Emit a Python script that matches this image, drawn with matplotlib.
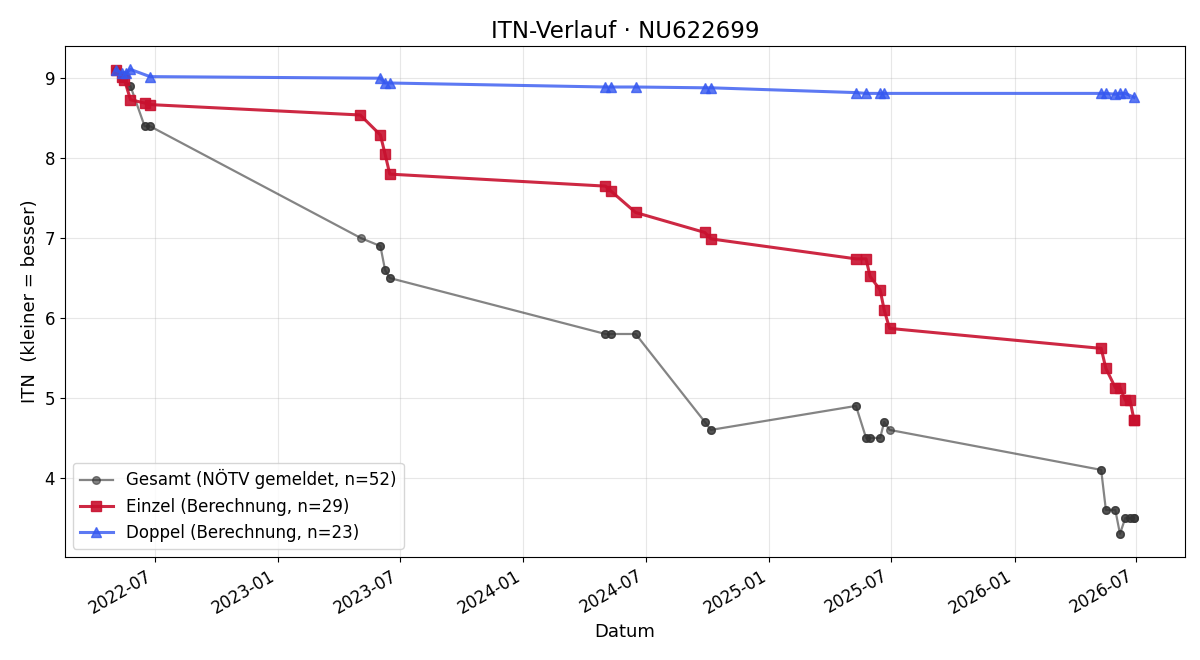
import matplotlib
matplotlib.use("Agg")
import matplotlib.pyplot as plt
import matplotlib.dates as mdates
import pandas as pd

# Gesamt (NÖTV gemeldet) - Einträge an gleichen Tagen doppelt
gesamt_dates = ["2022-05-04", "2022-05-04", "2022-05-13", "2022-05-26", "2022-05-26",
                "2022-06-16", "2022-06-16", "2022-06-24", "2022-06-24",
                "2023-05-04", "2023-06-02", "2023-06-02", "2023-06-09", "2023-06-09",
                "2023-06-16", "2023-06-16",
                "2024-05-02", "2024-05-02", "2024-05-10", "2024-05-10", "2024-06-16", "2024-06-16",
                "2024-09-27", "2024-09-27", "2024-10-06", "2024-10-06",
                "2025-05-10", "2025-05-10", "2025-05-25", "2025-05-25", "2025-05-31", "2025-05-31",
                "2025-06-15", "2025-06-15", "2025-06-21", "2025-06-21", "2025-06-29",
                "2026-05-10", "2026-05-10", "2026-05-17", "2026-05-17", "2026-05-31", "2026-05-31",
                "2026-06-07", "2026-06-07", "2026-06-15", "2026-06-15", "2026-06-22", "2026-06-22",
                "2026-06-28", "2026-06-28", "2026-06-28"]
gesamt_itn = [9.1, 9.1, 9.0, 8.9, 8.9,
              8.4, 8.4, 8.4, 8.4,
              7.0, 6.9, 6.9, 6.6, 6.6,
              6.5, 6.5,
              5.8, 5.8, 5.8, 5.8, 5.8, 5.8,
              4.7, 4.7, 4.6, 4.6,
              4.9, 4.9, 4.5, 4.5, 4.5, 4.5,
              4.5, 4.5, 4.7, 4.7, 4.6,
              4.1, 4.1, 3.6, 3.6, 3.6, 3.6,
              3.3, 3.3, 3.5, 3.5, 3.5, 3.5,
              3.5, 3.5, 3.5]

einzel_dates = ["2022-05-04", "2022-05-13", "2022-05-17", "2022-05-26", "2022-06-16", "2022-06-24",
                "2023-05-03", "2023-06-02", "2023-06-09", "2023-06-16",
                "2024-05-02", "2024-05-10", "2024-06-16", "2024-09-27", "2024-10-06",
                "2025-05-10", "2025-05-25", "2025-05-31", "2025-06-15", "2025-06-21", "2025-06-29",
                "2026-05-10", "2026-05-17", "2026-05-31", "2026-06-07", "2026-06-15", "2026-06-22",
                "2026-06-28", "2026-06-28"]
einzel_itn = [9.1, 9.02, 8.98, 8.73, 8.69, 8.67,
              8.54, 8.29, 8.05, 7.80,
              7.65, 7.59, 7.32, 7.07, 6.99,
              6.74, 6.74, 6.52, 6.35, 6.10, 5.87,
              5.62, 5.37, 5.13, 5.13, 4.97, 4.97,
              4.72, 4.72]

doppel_dates = ["2022-05-04", "2022-05-13", "2022-05-20", "2022-05-26", "2022-06-24",
                "2023-06-02", "2023-06-09", "2023-06-16",
                "2024-05-02", "2024-05-10", "2024-06-16", "2024-09-27", "2024-10-06",
                "2025-05-10", "2025-05-25", "2025-06-15", "2025-06-21",
                "2026-05-10", "2026-05-17", "2026-05-31", "2026-06-07", "2026-06-15", "2026-06-28"]
doppel_itn = [9.1, 9.07, 9.07, 9.11, 9.02,
              9.0, 8.94, 8.94,
              8.89, 8.89, 8.89, 8.88, 8.88,
              8.82, 8.81, 8.81, 8.81,
              8.81, 8.81, 8.80, 8.81, 8.81, 8.76]

gesamt_dates = pd.to_datetime(gesamt_dates)
einzel_dates = pd.to_datetime(einzel_dates)
doppel_dates = pd.to_datetime(doppel_dates)

fig, ax = plt.subplots(figsize=(12, 6.6), dpi=100)

ax.plot(gesamt_dates, gesamt_itn, marker="o", markersize=5.5, linewidth=1.6,
        color="#333333", alpha=0.6, label="Gesamt (NÖTV gemeldet, n=%d)" % len(gesamt_itn))
ax.plot(einzel_dates, einzel_itn, marker="s", markersize=7.5, linewidth=2.2,
        color="#C8102E", alpha=0.9, label="Einzel (Berechnung, n=%d)" % len(einzel_itn))
ax.plot(doppel_dates, doppel_itn, marker="^", markersize=7.5, linewidth=2.2,
        color="#3558F0", alpha=0.8, label="Doppel (Berechnung, n=%d)" % len(doppel_itn))

ax.set_title("ITN-Verlauf · NU622699", fontsize=16.5)
ax.set_xlabel("Datum", fontsize=13)
ax.set_ylabel("ITN  (kleiner = besser)", fontsize=13)
ax.tick_params(labelsize=12)
ax.grid(True, alpha=0.3)
ax.xaxis.set_major_formatter(mdates.DateFormatter("%Y-%m"))
ax.legend(loc="lower left", fontsize=12)
fig.autofmt_xdate()

fig.subplots_adjust(left=0.054, right=0.9875, top=0.930, bottom=0.156)
fig.savefig("out.png")
